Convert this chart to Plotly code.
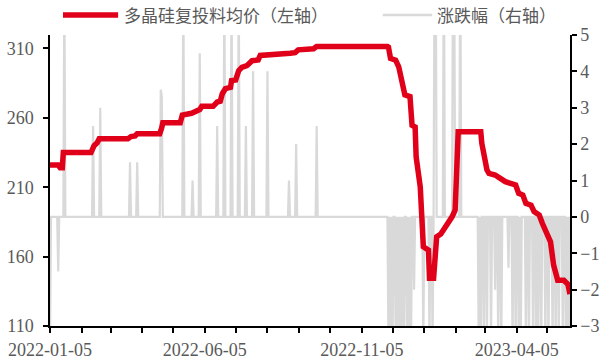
import pandas as pd
import plotly.graph_objects as go

# 多晶硅复投料均价（元/kg），折线拐点
price_dates = [
    "2022-01-05", "2022-01-13", "2022-01-15", "2022-01-17", "2022-01-18",
    "2022-02-14", "2022-02-17", "2022-02-20", "2022-02-22", "2022-03-22",
    "2022-03-25", "2022-03-29", "2022-03-31", "2022-04-22", "2022-04-24",
    "2022-04-25", "2022-05-12", "2022-05-14", "2022-05-23", "2022-05-27",
    "2022-05-31", "2022-06-02", "2022-06-13", "2022-06-17", "2022-06-20",
    "2022-06-22", "2022-06-25", "2022-06-30", "2022-07-01", "2022-07-05",
    "2022-07-08", "2022-07-11", "2022-07-16", "2022-07-21", "2022-07-27",
    "2022-07-29", "2022-08-22", "2022-08-27", "2022-09-01", "2022-09-04",
    "2022-09-19", "2022-09-22", "2022-11-30", "2022-12-01", "2022-12-03",
    "2022-12-08", "2022-12-11", "2022-12-14", "2022-12-17", "2022-12-22",
    "2022-12-24", "2022-12-27", "2022-12-28", "2023-01-01", "2023-01-03",
    "2023-01-04", "2023-01-09", "2023-01-10", "2023-01-14", "2023-01-17",
    "2023-01-21", "2023-01-27", "2023-02-01", "2023-02-04", "2023-02-07",
    "2023-02-27", "2023-03-01", "2023-03-02", "2023-03-04", "2023-03-07",
    "2023-03-09", "2023-03-15", "2023-03-20", "2023-03-25", "2023-03-30",
    "2023-04-04", "2023-04-07", "2023-04-11", "2023-04-14", "2023-04-19",
    "2023-04-22", "2023-04-27", "2023-04-30", "2023-05-05", "2023-05-08",
    "2023-05-11", "2023-05-15", "2023-05-21", "2023-05-25", "2023-05-27",
]
price_vals = [
    226, 226, 224, 224, 235,
    235, 240, 242, 245, 245,
    246.5, 247, 248.6, 248.6, 253,
    256.5, 256.5, 262, 263.3, 264.5,
    266, 268.3, 268.3, 271.4, 272,
    277.4, 281, 282, 286.8, 287.3,
    294, 296.4, 297.6, 301.2, 301.7,
    305, 305.7, 306.6, 307, 309,
    309.8, 311.5, 311.5, 311, 302.8,
    301.6, 296.8, 287.3, 276.5, 275.3,
    254.6, 253.4, 231.8, 210.2, 188.7,
    167.1, 164.7, 144.4, 144.4, 174.3,
    176.3, 182.7, 188.7, 193.5, 250,
    250, 250, 241.7, 232, 222.5,
    220, 218.8, 216.4, 214, 212.8,
    211.6, 205.6, 204.4, 198.4, 197.1,
    192.4, 190, 184, 175.5, 170.7,
    153.9, 143, 143, 140, 133,
]

# 涨跌幅（%），仅列出非零的日期，其余日期为 0
chg_dates = [
    "2022-01-05", "2022-01-13", "2022-01-19", "2022-02-16", "2022-02-23",
    "2022-03-24", "2022-03-31", "2022-04-23", "2022-04-24", "2022-05-15",
    "2022-05-24", "2022-05-31", "2022-06-17", "2022-06-24", "2022-07-01",
    "2022-07-08", "2022-07-15", "2022-07-22", "2022-08-05", "2022-08-26",
    "2022-09-02", "2022-09-22",
    "2022-12-01", "2022-12-03", "2022-12-05", "2022-12-08", "2022-12-10",
    "2022-12-12", "2022-12-14", "2022-12-16", "2022-12-19", "2022-12-21",
    "2022-12-23", "2022-12-26", "2023-01-04", "2023-01-10", "2023-01-13",
    "2023-01-15", "2023-01-16", "2023-01-24", "2023-02-02", "2023-02-03",
    "2023-02-09",
    "2023-02-27", "2023-03-01", "2023-03-04", "2023-03-07", "2023-03-11",
    "2023-03-15", "2023-03-18", "2023-03-21", "2023-03-28", "2023-04-01",
    "2023-04-04", "2023-04-07", "2023-04-09", "2023-04-14", "2023-04-17",
    "2023-04-21", "2023-04-24", "2023-04-26", "2023-04-29", "2023-05-03",
    "2023-05-06", "2023-05-10", "2023-05-13", "2023-05-16", "2023-05-20",
    "2023-05-23", "2023-05-25", "2023-05-27",
]
chg_vals = [
    -3.5, -1.5, 6.5, 2.5, 3.0,
    1.5, 1.5, 3.5, 3.3, 6.5,
    1.0, 4.5, 2.5, 6.5, 6.5,
    6.5, 2.5, 4.0, 4.0, 1.0,
    2.0, 2.5,
    -3.5, -3.5, -3.5, -3.5, -3.5,
    -3.5, -3.5, -3.5, -3.5, -3.5,
    -3.5, -2.0, -3.5, -3.5, -3.5,
    8, 8, 8, 8, 8,
    8,
    -3.5, -3.5, -3.5, -3.5, -3.5,
    -2.0, -3.5, -3.5, -1.4, -3.5,
    -3.5, -3.5, -3.5, -3.5, -3.5,
    -3.5, -3.5, -3.5, -3.5, -3.5,
    -3.5, -3.5, -3.5, -3.5, -3.5,
    -3.5, -3.5, -3.5,
]

# 横轴刻度：每月 5 日一个刻度，每 5 个月标注一次
tick_dates = pd.date_range("2022-01-01", "2023-05-01", freq="MS") + pd.Timedelta(days=4)
tick_text = [d.strftime("%Y-%m-%d") if i % 5 == 0 else "" for i, d in enumerate(tick_dates)]

left_ticks = [110, 160, 210, 260, 310]
right_ticks = [-3, -2, -1, 0, 1, 2, 3, 4, 5]

RED = "#E1001A"
GREY = "#D9D9D9"
TXT = "#595959"
SERIF = "Liberation Serif"
CJK = "Noto Sans CJK SC"

start, end = "2022-01-05", "2023-05-27"
days = pd.date_range(start, end, freq="D")
chg = pd.Series(chg_vals, index=pd.to_datetime(chg_dates)).reindex(days, fill_value=0.0)

fig = go.Figure()
# 涨跌幅画在右轴（y），均价画在叠加的左轴（y2），使红线位于灰线之上
fig.add_trace(go.Scatter(
    x=chg.index, y=chg.values, mode="lines",
    name="涨跌幅（右轴）",
    line=dict(color=GREY, width=2.2), yaxis="y",
))
fig.add_trace(go.Scatter(
    x=pd.to_datetime(price_dates), y=price_vals, mode="lines",
    name="多晶硅复投料均价（左轴）",
    line=dict(color=RED, width=5.5), yaxis="y2",
))

axis_common = dict(
    showline=True, linecolor="black", linewidth=1.5,
    ticks="outside", ticklen=5, tickwidth=1.5, tickcolor="black",
    showgrid=False, zeroline=False, automargin=False,
    tickfont=dict(family=SERIF, size=18, color=TXT),
)

fig.update_layout(
    width=600, height=362,
    margin=dict(l=50, r=30, t=35, b=36),
    paper_bgcolor="white", plot_bgcolor="white",
    showlegend=False,
    xaxis=dict(
        type="date", range=[start, end],
        tickvals=list(tick_dates), ticktext=tick_text,
        ticklabelstandoff=2,
        **axis_common,
    ),
    yaxis=dict(range=[-3, 5], tickvals=right_ticks, side="right",
               ticklabelstandoff=0, **axis_common),
    yaxis2=dict(range=[110, 319.7], tickvals=left_ticks, side="left", overlaying="y",
                ticklabelstandoff=6, **axis_common),
)

# 图例（顶部）
leg_y = 1.069
fig.add_shape(type="line", xref="paper", yref="paper", x0=0.025, x1=0.131, y0=leg_y, y1=leg_y,
              line=dict(color=RED, width=5.5))
fig.add_annotation(xref="paper", yref="paper", x=0.139, y=leg_y, xanchor="left", yanchor="middle",
                   text="多晶硅复投料均价（左轴）", showarrow=False,
                   font=dict(family=CJK, size=17, color=TXT))
fig.add_shape(type="line", xref="paper", yref="paper", x0=0.640, x1=0.735, y0=leg_y, y1=leg_y,
              line=dict(color=GREY, width=2.5))
fig.add_annotation(xref="paper", yref="paper", x=0.741, y=leg_y, xanchor="left", yanchor="middle",
                   text="涨跌幅（右轴）", showarrow=False,
                   font=dict(family=CJK, size=17, color=TXT))

fig.write_html("out.html")
